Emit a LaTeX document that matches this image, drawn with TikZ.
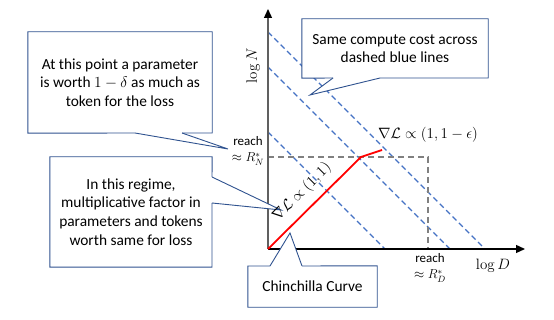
\documentclass[tikz,border=0pt]{standalone}
\usepackage{fix-cm}
\usepackage{amsmath,amssymb}
\usepackage[no-math]{fontspec}
\setmainfont{Carlito}
\usetikzlibrary{arrows.meta,calc}
\definecolor{callblue}{RGB}{47,82,143}
\definecolor{isoblue}{RGB}{68,114,196}
\definecolor{axgray}{RGB}{96,96,96}
\tikzset{
  isocost/.style={isoblue, line width=1.4pt, dash pattern=on 5.5pt off 3.5pt},
  reachline/.style={gray, line width=1.3pt, dash pattern=on 6pt off 4pt},
  chinchilla/.style={red, line width=1.8pt},
  xaxis/.style={black, line width=1.3pt, -{Triangle[length=9pt,width=8pt]}},
  yaxis/.style={axgray, line width=1.3pt, -{Triangle[length=9pt,width=8pt,color=black,fill=black]}},
  callbox/.style={fill=white, align=center, inner sep=0pt,
                  font=\fontsize{15.4}{18.6}\selectfont},
  calledge/.style={draw=callblue, line width=0.9pt},
  axislbl/.style={font=\fontsize{15}{18}\selectfont, inner sep=1pt},
  reachlbl/.style={align=center, inner sep=0pt, font=\fontsize{13}{16}\selectfont},
}

\begin{document}
\begin{tikzpicture}[x=1pt,y=-1pt]
  \useasboundingbox (0,0) rectangle (554,320);
  \coordinate (O) at (268,249);
  \coordinate (K) at (361,157);
  \coordinate (E) at (382,150);
  \coordinate (RN) at (268,157);
  \coordinate (RD) at (428,249);
  \coordinate (xtip) at (525,249);
  \coordinate (ytip) at (268,9);
  % lines of equal compute
  \foreach \c in {117,182,217}
    \draw[isocost] (O) ++(0,-\c) -- ++(\c,\c);
  \draw[reachline] (RN) -| (RD);
  \draw[yaxis] (O) -- (ytip);
  \draw[xaxis] (O) -- (xtip);
  \draw[chinchilla] (O) -- (K) -- (E);

  % callouts
  \node[callbox, minimum width=184pt, minimum height=101pt] (par) at (120,82.5)
    {At this point a parameter\\is worth $1-\delta$ as much as\\token for the loss};
  \filldraw[calledge, fill=white] (135,133) -- (228,149) -- (182,133);
  \draw[calledge] (182,133) -| (par.north east) -| (par.south west) -- (135,133);

  \node[callbox, minimum width=186pt, minimum height=59pt] (cost) at (395,48.5)
    {Same compute cost across\\dashed blue lines};
  \filldraw[calledge, fill=white] (333,78) -- (310,95) -- (380,78);
  \draw[calledge] (380,78) -| (cost.north east) -| (cost.south west) -- (333,78);

  \node[callbox, minimum width=162pt, minimum height=110pt] (reg) at (131,212)
    {In this regime,\\multiplicative factor in\\parameters and tokens\\worth same for loss};
  \filldraw[calledge, fill=white] (212,177) -- (281,210) -- (212,203);
  \draw[calledge] (212,203) |- (reg.south west) |- (reg.north east) -- (212,177);

  \node[callbox, minimum width=129pt, minimum height=41pt] (chin) at (312.5,286.5)
    {Chinchilla Curve};
  \filldraw[calledge, fill=white] (302,266) -- (290,233) -- (270,266);
  \draw[calledge] (270,266) -| (chin.south west) -| (chin.north east) -- (302,266);

  % labels
  \node[axislbl, rotate=90] (lN) at (253,66) {$\log N$};
  \node[axislbl] (lD) at (493,266) {$\log D$};
  \node[reachlbl] (rN) at (248,151) {reach\\$\approx R_N^*$};
  \node[reachlbl] (rD) at (430,268) {reach\\$\approx R_D^*$};
  \node[axislbl] (gK) at (428,135) {$\nabla\mathcal{L}\propto(1,1-\epsilon)$};
  \node[axislbl, rotate=45] (gO) at (302,192) {$\nabla\mathcal{L}\propto(1,1)$};
\end{tikzpicture}
\end{document}
